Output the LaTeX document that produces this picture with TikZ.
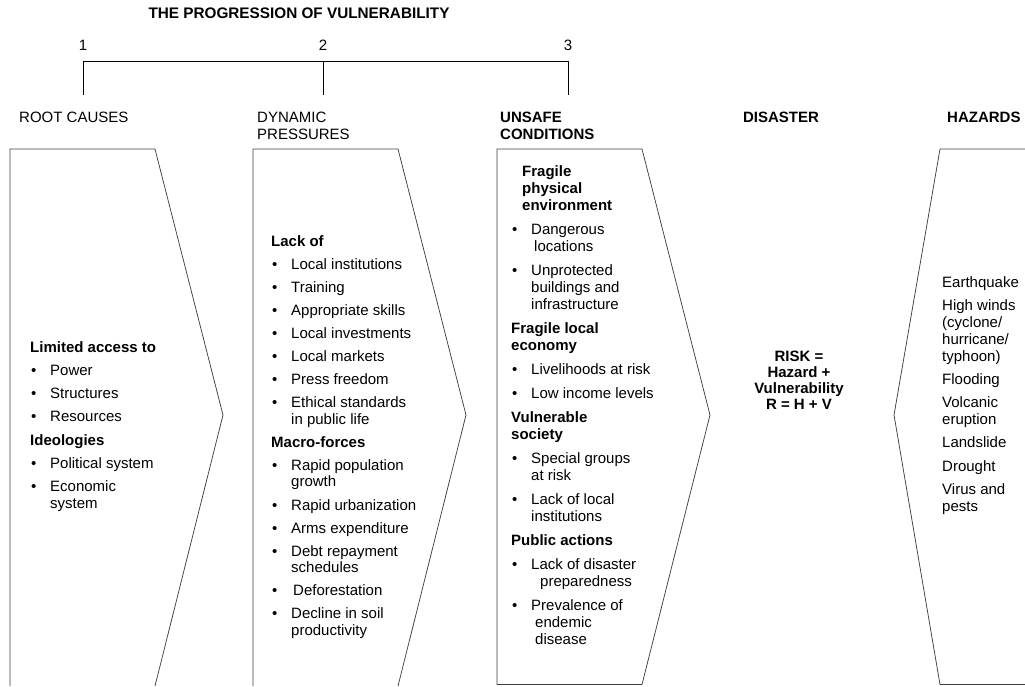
\documentclass[tikz,border=0pt]{standalone}
\usepackage{fontspec}
\setmainfont{Liberation Sans}
% heading line and bulleted item inside a column list
\newcommand\colhead[1]{\par\noindent\textbf{#1}\par}
\newcommand\colitem[1]{\par\noindent\hangindent=20pt\hangafter=1\makebox[20pt][l]{\hspace{1pt}\textbullet}#1\par}
\newcommand\plainitem[1]{\par\noindent#1\par}
\newenvironment{collist}[2]{\begin{minipage}[t]{170pt}\fontsize{15}{#1}\selectfont\setlength\parskip{#2}\raggedright\let\\\newline}{\end{minipage}}
\begin{document}
\begin{tikzpicture}[x=1pt,y=-1pt,
  chevron/.style={draw=black!75, line width=0.75pt, line join=miter},
  bracket/.style={draw=black, line width=0.7pt},
  lbl/.style={font=\fontsize{15}{17}\selectfont, inner sep=0pt, anchor=base west, align=left},
  boldlbl/.style={lbl, font=\bfseries\fontsize{15}{17}\selectfont},
  list/.style={inner sep=0pt, anchor=base west}]
\useasboundingbox (0,0) rectangle (1025,686);

% title and the 1-2-3 bracket
\node[boldlbl, anchor=base, font=\bfseries\fontsize{15.3}{17}\selectfont] (title) at (299,18) {THE PROGRESSION OF VULNERABILITY};
\node[lbl, anchor=base] (n1) at (83,50) {1};
\node[lbl, anchor=base] (n2) at (323,50) {2};
\node[lbl, anchor=base] (n3) at (568,50) {3};
\coordinate (b1) at (83,61);
\coordinate (b2) at (323,61);
\coordinate (b3) at (568,61);
\coordinate (t1) at (83,95);
\coordinate (t2) at (323,95);
\coordinate (t3) at (568,95);
\draw[bracket] (t1) -- (b1) -- (b3) -- (t3);
\draw[bracket] (b2) -- (t2);

% column headings
\node[lbl] (hroot) at (19,122) {ROOT CAUSES};
\node[lbl] (hdyn) at (257,139) {DYNAMIC\\PRESSURES};
\node[boldlbl] (hunsafe) at (500,139) {UNSAFE\\CONDITIONS};
\node[boldlbl, anchor=base] (hdis) at (781,122) {DISASTER};
\node[boldlbl] (hhaz) at (947,122) {HAZARDS};

% chevron outlines
\draw[chevron] (10,686) -- (10,149) -- (155,149) -- (223,415) -- (155,686);
\draw[chevron] (253,686) -- (253,149) -- (398,149) -- (466,415) -- (398,686);
\draw[chevron] (497,684.5) -- (497,149) -- (642,149) -- (710,415) -- (642,684.5) -- cycle;
\draw[chevron] (1026,149) -- (940,149) -- (894,415) -- (940,684.5) -- (1026,684.5);

% root causes
\node[list] (root) at (30,352) {\begin{collist}{16.5pt}{6.8pt}
\colhead{Limited access to}
\colitem{Power}
\colitem{Structures}
\colitem{Resources}
\colhead{Ideologies}
\colitem{Political system}
\colitem{Economic\\system}
\end{collist}};

% dynamic pressures
\node[list] (dyn) at (271,246) {\begin{collist}{16.5pt}{6.6pt}
\colhead{Lack of}
\colitem{Local institutions}
\colitem{Training}
\colitem{Appropriate skills}
\colitem{Local investments}
\colitem{Local markets}
\colitem{Press freedom}
\colitem{Ethical standards\\in public life}
\colhead{Macro-forces}
\colitem{Rapid population\\growth}
\colitem{Rapid urbanization}
\colitem{Arms expenditure}
\colitem{Debt repayment\\schedules}
\colitem{\hspace*{2pt}Deforestation}
\colitem{Decline in soil\\productivity}
\end{collist}};

% unsafe conditions
\node[list] (unsafe) at (511,176) {\begin{collist}{17pt}{7pt}
\colhead{\hspace*{11pt}Fragile\\\hspace*{11pt}physical\\\hspace*{11pt}environment}
\colitem{Dangerous\\\hspace*{3pt}locations}
\colitem{Unprotected\\buildings and\\infrastructure}
\colhead{Fragile local\\economy}
\colitem{Livelihoods at risk}
\colitem{Low income levels}
\colhead{Vulnerable\\society}
\colitem{Special groups\\at risk}
\colitem{Lack of local\\institutions}
\colhead{Public actions}
\colitem{Lack of disaster\\\hspace*{9pt}preparedness}
\colitem{Prevalence of\\\hspace*{4pt}endemic\\\hspace*{4pt}disease}
\end{collist}};

% disaster
\node[boldlbl, anchor=north, align=center, font=\bfseries\fontsize{15}{16}\selectfont] (risk) at (799,351)
  {RISK =\\Hazard +\\Vulnerability\\R = H + V};

% hazards
\node[list] (haz) at (942,287) {\begin{collist}{17pt}{6.2pt}
\plainitem{Earthquake}
\plainitem{High winds\\(cyclone/\\hurricane/\\typhoon)}
\plainitem{Flooding}
\plainitem{Volcanic\\eruption}
\plainitem{Landslide}
\plainitem{Drought}
\plainitem{Virus and\\pests}
\end{collist}};
\end{tikzpicture}
\end{document}
